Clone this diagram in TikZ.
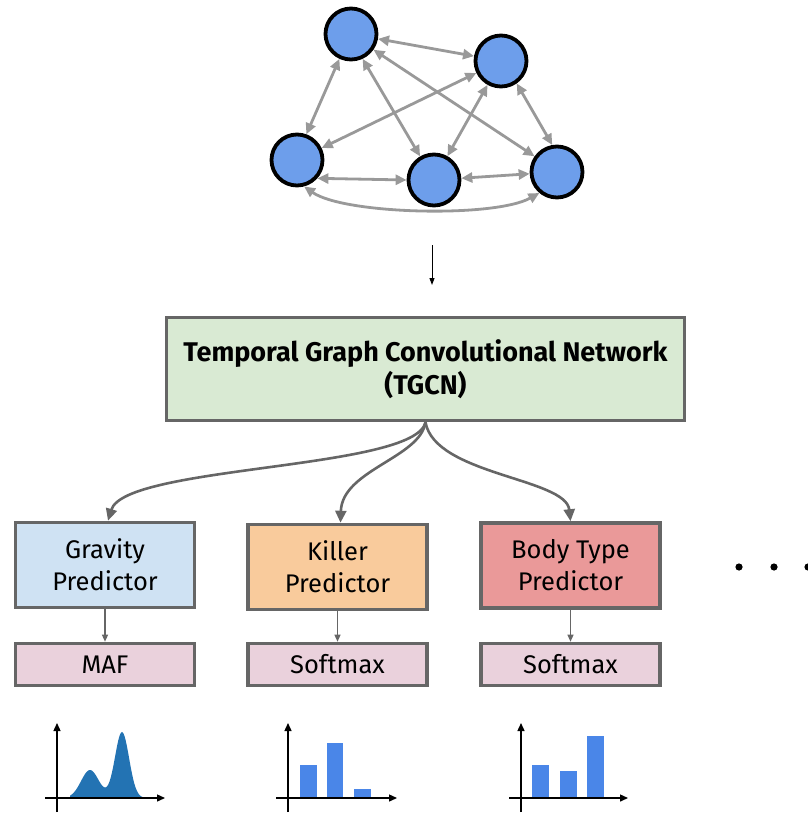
\documentclass[tikz,border=0pt]{standalone}
\usepackage{fontspec}
\setmainfont{Fira Sans}
\usetikzlibrary{arrows.meta}
\definecolor{nodeblue}{HTML}{6D9EEB}
\definecolor{edgegray}{HTML}{999999}
\definecolor{boxgray}{HTML}{666666}
\definecolor{tgcnfill}{HTML}{D9EAD3}
\definecolor{gravfill}{HTML}{CFE2F3}
\definecolor{killfill}{HTML}{F9CB9C}
\definecolor{bodyfill}{HTML}{EA9999}
\definecolor{outfill}{HTML}{EAD1DC}
\definecolor{distblue}{HTML}{2373B3}
\definecolor{barblue}{HTML}{4A86E8}
\tikzset{
  gnode/.style={circle, draw=black, line width=3.8pt, fill=nodeblue, minimum size=51pt, inner sep=0pt},
  gedge/.style={draw=edgegray, line width=2.8pt, {Triangle[length=11pt,width=10pt]}-{Triangle[length=11pt,width=10pt]}},
  box/.style={rectangle, draw=boxgray, line width=3.6pt, align=center, inner sep=0pt},
  predbox/.style={box, minimum width=179pt, minimum height=85pt, font=\fontsize{25.5}{32}\selectfont},
  outbox/.style={box, minimum width=179pt, minimum height=42pt, fill=outfill, font=\fontsize{25.5}{30}\selectfont},
  fanout/.style={draw=boxgray, line width=2.6pt, -{Triangle[length=12pt,width=11pt]}},
  thinarrow/.style={draw=boxgray, line width=1.2pt, -{Triangle[length=7pt,width=6pt]}},
  axis/.style={draw=black, line width=1.4pt, -{Triangle[length=8pt,width=7pt]}},
}
\begin{document}
\begin{tikzpicture}[x=1pt,y=-1pt]
\useasboundingbox (0,0) rectangle (807,813);

% input graph
\node[gnode] (A) at (351,34) {};
\node[gnode] (B) at (501,61) {};
\node[gnode] (C) at (297,160) {};
\node[gnode] (D) at (434,180) {};
\node[gnode] (E) at (557,172) {};
\draw[gedge] (A) -- (B);
\draw[gedge] (A.-115) -- (C.70);
\draw[gedge] (A.-65) -- (D);
\draw[gedge] (A.-35) -- (E.145);
\draw[gedge] (B) -- (C);
\draw[gedge] (B) -- (D);
\draw[gedge] (B.-55) -- (E.100);
\draw[gedge] (C.-42) -- (D.180);
\draw[gedge] (D) -- (E);
\draw[gedge] (C.-75) .. controls +(40,28) and +(-45,25) .. (E.-130);

% graph into the network
\coordinate (in1) at (432,245);
\coordinate (in2) at (432,285);
\draw[draw=black, line width=1pt, -{Triangle[length=7pt,width=5pt]}] (in1) -- (in2);

% network and heads
\node[box, fill=tgcnfill, minimum width=518pt, minimum height=103pt,
      font=\bfseries\fontsize{27}{33}\selectfont] (T) at (425.5,369)
      {Temporal Graph Convolutional Network\\(TGCN)};

\node[predbox, fill=gravfill] (G) at (105,565) {Gravity\\Predictor};
\node[predbox, fill=killfill] (K) at (337.5,567) {Killer\\Predictor};
\node[predbox, fill=bodyfill] (P) at (570.5,565.5) {Body Type\\Predictor};

\node[outbox] (M) at (105,664.5) {MAF};
\node[outbox] (S1) at (337.5,664.5) {Softmax};
\node[outbox] (S2) at (570.5,664.5) {Softmax};

\draw[fanout] (T.south) .. controls (415,470) and (125,465) .. ([xshift=3pt]G.north);
\draw[fanout] (T.south) .. controls (420,458) and (342,470) .. ([xshift=3pt]K.north);
\draw[fanout] (T.south) .. controls (435,475) and (566,478) .. (P.north);

\draw[thinarrow] (G) -- (M);
\draw[thinarrow] (K) -- (S1);
\draw[thinarrow] (P) -- (S2);

% more heads
\foreach \dx in {739,774,808} \fill[black] (\dx,567) circle (3.6pt);

% density from the flow
\fill[distblue] (70,798) -- plot[domain=70:143,samples=60]
  (\x,{798-28*exp(-(\x-90)*(\x-90)/160)-66*exp(-(\x-122)*(\x-122)/100)}) -- (143,798) -- cycle;
\draw[axis] (45,798) -- (165,798);
\draw[axis] (57,812) -- (57,723);

% categorical outputs
\fill[barblue] (300,798) rectangle (317,765);
\fill[barblue] (327,798) rectangle (343,743);
\fill[barblue] (354,798) rectangle (371,789);
\draw[axis] (276,798) -- (397,798);
\draw[axis] (288,812) -- (288,723);

\fill[barblue] (532,798) rectangle (549,765);
\fill[barblue] (560,798) rectangle (577,771);
\fill[barblue] (587,798) rectangle (604,736);
\draw[axis] (509,798) -- (628,798);
\draw[axis] (521,812) -- (521,723);
\end{tikzpicture}
\end{document}
